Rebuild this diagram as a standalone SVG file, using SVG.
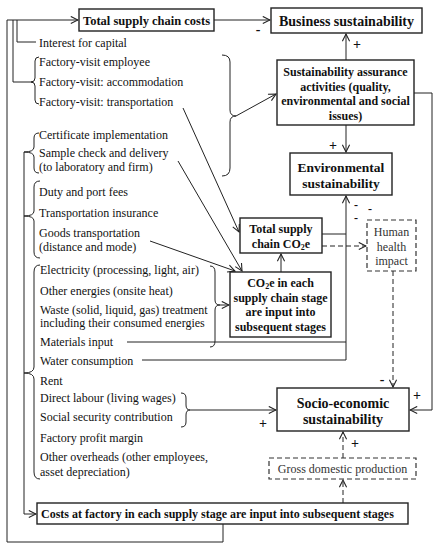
<svg xmlns="http://www.w3.org/2000/svg" width="441" height="550" viewBox="0 0 441 550">
<style>
text{font-family:"Liberation Serif","Times New Roman",serif;fill:#111}
.t{font-size:12px}
.b{font-weight:bold}
.box{fill:#fff;stroke:#222;stroke-width:1.4}
.dbox{fill:#fff;stroke:#333;stroke-width:1.2;stroke-dasharray:5,3}
.ln{fill:none;stroke:#222;stroke-width:1}
.dl{fill:none;stroke:#222;stroke-width:1;stroke-dasharray:5,3}
.sg{font-size:14px;font-weight:bold}
.ms{font-size:12px;font-weight:bold}
.c{text-anchor:middle}
</style>
<defs>
<marker id="a" viewBox="0 0 10 10" refX="9" refY="5" markerWidth="9" markerHeight="9" markerUnits="userSpaceOnUse" orient="auto">
<path d="M1,1 L9,5 L1,9" fill="none" stroke="#222" stroke-width="1.2"/>
</marker>
</defs>

<g id="connectors">
<path class="ln" d="M223,524 V542 H7 V20 H78" marker-end="url(#a)"/>
<path class="ln" d="M13,20 V82 H33"/>
<path class="ln" d="M17,20 V42 H36"/>
<path class="ln" d="M24,152 V514 H36" marker-end="url(#a)"/>
<path class="ln" d="M39,57 Q35,57 35,61 V78 Q35,82 31,82 Q35,82 35,86 V100 Q35,104 39,104"/>
<path class="ln" d="M39,133 Q34,133 34,138 V147 Q34,152 24,152 Q34,152 34,157 V168 Q34,173 39,173"/>
<path class="ln" d="M40,181 Q34,181 34,187 V211 Q34,216 24,216 Q34,216 34,221 V252 Q34,258 40,258"/>
<path class="ln" d="M40,265 Q34,265 34,272 V367 Q34,373 24,373 Q34,373 34,379 V472 Q34,479 40,479"/>
<path class="ln" d="M222,55 Q230,55 230,62 V110 Q230,116 236,116 Q230,116 230,122 V168 Q230,176 222,176"/>
<path class="ln" d="M236,116 L276,94" marker-end="url(#a)"/>
<path class="ln" d="M210,266 Q215,266 215,272 V300 Q215,305 220,305 Q215,305 215,310 V341 Q215,347 210,347"/>
<path class="ln" d="M220,305 H229" marker-end="url(#a)"/>
<path class="ln" d="M181,393 Q186,393 186,398 V405 Q186,410 190,410 Q186,410 186,415 V422 Q186,427 181,427"/>
<path class="ln" d="M190,410 H276" marker-end="url(#a)"/>
<path class="ln" d="M214,20 H270" marker-end="url(#a)"/>
<path class="ln" d="M346,60 V34" marker-end="url(#a)"/>
<path class="ln" d="M346,125 V152" marker-end="url(#a)"/>
<path class="ln" d="M414,93 H432 V410 H410" marker-end="url(#a)"/>
<path class="ln" d="M183,108 L239,232" marker-end="url(#a)"/>
<path class="ln" d="M178,161 L242,271" marker-end="url(#a)"/>
<path class="ln" d="M150,241 L235,271" marker-end="url(#a)"/>
<path class="ln" d="M281,272 V254" marker-end="url(#a)"/>
<path class="ln" d="M322,234 H346"/>
<path class="ln" d="M127,342 H346"/>
<path class="ln" d="M142,360 H346 V196" marker-end="url(#a)"/>
<path class="dl" d="M322,246 H366" marker-end="url(#a)"/>
<path class="dl" d="M393,271 V387" marker-end="url(#a)"/>
<path class="dl" d="M343,503 V480" marker-end="url(#a)"/>
<path class="dl" d="M343,458 V432" marker-end="url(#a)"/>
<text class="sg" x="258" y="34" text-anchor="middle">-</text>
<text class="sg" x="357" y="49" text-anchor="middle">+</text>
<text class="sg" x="333" y="150" text-anchor="middle">+</text>
<text class="ms" x="356" y="209" text-anchor="middle">-</text>
<text class="ms" x="370" y="213" text-anchor="middle">-</text>
<text class="ms" x="356" y="222" text-anchor="middle">-</text>
<text class="sg" x="382" y="384" text-anchor="middle">-</text>
<text class="sg" x="417" y="400" text-anchor="middle">+</text>
<text class="sg" x="263" y="428" text-anchor="middle">+</text>
<text class="sg" x="355" y="448" text-anchor="middle">+</text>
</g>

<g id="items">
<text class="t" x="39" y="47">Interest for capital</text>
<text class="t" x="39" y="66">Factory-visit employee</text>
<text class="t" x="39" y="86">Factory-visit: accommodation</text>
<text class="t" x="39" y="106">Factory-visit: transportation</text>
<text class="t" x="39" y="139">Certificate implementation</text>
<text class="t" x="39" y="157">Sample check and delivery</text>
<text class="t" x="39" y="171">(to laboratory and firm)</text>
<text class="t" x="39" y="196">Duty and port fees</text>
<text class="t" x="39" y="217">Transportation insurance</text>
<text class="t" x="39" y="237">Goods transportation</text>
<text class="t" x="39" y="251">(distance and mode)</text>
<text class="t" x="40" y="274">Electricity  (processing, light, air)</text>
<text class="t" x="40" y="295">Other energies (onsite heat)</text>
<text class="t" x="40" y="314">Waste (solid, liquid, gas) treatment</text>
<text class="t" x="40" y="327">including their consumed energies</text>
<text class="t" x="40" y="346">Materials  input</text>
<text class="t" x="40" y="365">Water consumption</text>
<text class="t" x="40" y="385">Rent</text>
<text class="t" x="40" y="402">Direct labour (living  wages)</text>
<text class="t" x="40" y="421">Social security contribution</text>
<text class="t" x="40" y="442">Factory profit margin</text>
<text class="t" x="40" y="461">Other overheads (other employees,</text>
<text class="t" x="40" y="476">asset depreciation)</text>
</g>

<g id="total-costs">
<rect class="box" x="79" y="9" width="135" height="22"/>
<text class="b c" x="146.5" y="25" font-size="12.5">Total supply chain costs</text>
</g>
<g id="business">
<rect class="box" x="271" y="8" width="151" height="25"/>
<text class="b c" x="346.5" y="26" font-size="14">Business sustainability</text>
</g>
<g id="assurance">
<rect class="box" x="277" y="60" width="137" height="65"/>
<text class="b c t" x="345.5" y="76">Sustainability assurance</text>
<text class="b c t" x="345.5" y="90.5">activities (quality,</text>
<text class="b c t" x="345.5" y="105">environmental and social</text>
<text class="b c t" x="345.5" y="119.5">issues)</text>
</g>
<g id="environmental">
<rect class="box" x="290" y="153" width="102" height="42"/>
<text class="b c" x="341" y="172" font-size="13.5">Environmental</text>
<text class="b c" x="341" y="188" font-size="13.5">sustainability</text>
</g>
<g id="total-co2e">
<rect class="box" x="240" y="218" width="82" height="35"/>
<text class="b c t" x="281" y="233">Total supply</text>
<text class="b c t" x="281" y="247.5">chain CO<tspan font-size="8" dy="2">2</tspan><tspan dy="-2">e</tspan></text>
</g>
<g id="co2e-stage">
<rect class="box" x="230" y="272" width="101" height="65"/>
<text class="b c t" x="280.5" y="287">CO<tspan font-size="8" dy="2">2</tspan><tspan dy="-2">e in each</tspan></text>
<text class="b c t" x="280.5" y="301.5">supply chain stage</text>
<text class="b c t" x="280.5" y="316">are input into</text>
<text class="b c t" x="280.5" y="330.5">subsequent stages</text>
</g>
<g id="human-health">
<rect class="dbox" x="367" y="220" width="49" height="51"/>
<text class="c t" x="391.5" y="236" style="fill:#333">Human</text>
<text class="c t" x="391.5" y="250.5" style="fill:#333">health</text>
<text class="c t" x="391.5" y="265" style="fill:#333">impact</text>
</g>
<g id="socio">
<rect class="box" x="277" y="388" width="132" height="43"/>
<text class="b c" x="343" y="408" font-size="14">Socio-economic</text>
<text class="b c" x="343" y="424" font-size="14">sustainability</text>
</g>
<g id="gdp">
<rect class="dbox" x="269" y="458" width="147" height="21"/>
<text class="c t" x="342.5" y="473" style="fill:#333">Gross domestic production</text>
</g>
<g id="costs-factory">
<rect class="box" x="37" y="503" width="371" height="21"/>
<text class="b t" x="41" y="518">Costs at factory in each supply stage are input into subsequent stages</text>
</g>
</svg>
